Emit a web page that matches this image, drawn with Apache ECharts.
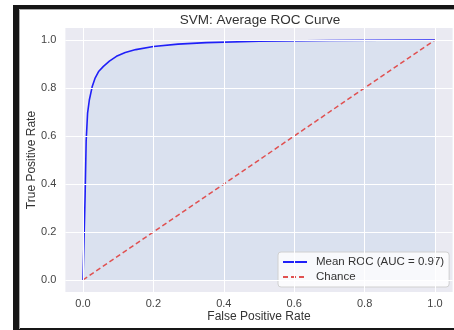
<!DOCTYPE html>
<html><head><meta charset="utf-8">
<script src="https://cdn.jsdelivr.net/npm/echarts@6/dist/echarts.min.js"></script>
<style>html,body{margin:0;padding:0;background:#fff;overflow:hidden}#c{width:454px;height:330px}</style>
</head><body><div id="c"></div>
<script>
var titleText = 'SVM: Average ROC Curve';
var xName = 'False Positive Rate';
var yName = 'True Positive Rate';
var rocName = 'Mean ROC (AUC = 0.97)';
var chanceName = 'Chance';
var fpr = [0, 0.006, 0.009, 0.013, 0.018, 0.026, 0.034, 0.045, 0.058, 0.075, 0.095, 0.12, 0.15, 0.2, 0.27, 0.35, 0.5, 0.7, 1.0];
var tpr = [0, 0.35, 0.58, 0.695, 0.75, 0.805, 0.84, 0.87, 0.89, 0.912, 0.932, 0.948, 0.96, 0.973, 0.983, 0.989, 0.995, 0.998, 1.0];
var chanceX = [0, 1];
var chanceY = [0, 1];
var xTicks = [0, 0.2, 0.4, 0.6, 0.8, 1.0];
var yTicks = [0, 0.2, 0.4, 0.6, 0.8, 1.0];

var font = '"Liberation Sans", Arial, sans-serif';
var rocData = fpr.map(function(x, i){ return [x, tpr[i]]; });
var chanceData = chanceX.map(function(x, i){ return [x, chanceY[i]]; });
var gridLines = xTicks.map(function(v){ return {xAxis: v}; }).concat(yTicks.map(function(v){ return {yAxis: v}; }));

var chart = echarts.init(document.getElementById('c'));
chart.setOption({
  animation: false,
  graphic: [
    {type: 'rect', z: -10, shape: {x: 13, y: 5, width: 6, height: 325}, style: {fill: '#161616'}},
    {type: 'rect', z: -10, shape: {x: 13, y: 5, width: 441, height: 4}, style: {fill: '#161616'}},
    {type: 'rect', z: -10, shape: {x: 13, y: 328, width: 441, height: 2}, style: {fill: '#161616'}},
    {type: 'polyline', z: -9, shape: {points: [[19.5, 329], [19.5, 9.5], [454, 9.5]]}, style: {stroke: '#aaa', lineWidth: 1, fill: null}},
    {type: 'text', z: 10, x: 260, y: 20, style: {text: titleText, fill: '#333', font: '13.5px ' + font, align: 'center', verticalAlign: 'middle'}}
  ],
  grid: {left: 65.4, right: 1.4, top: 28, bottom: 38, show: true, backgroundColor: '#EAEAF2', borderWidth: 0, containLabel: false, outerBoundsMode: 'none'},
  xAxis: {
    type: 'value', min: -0.05, max: 1.05,
    name: xName, nameLocation: 'middle', nameGap: 19, nameMoveOverlap: false,
    nameTextStyle: {color: '#333', fontSize: 12, fontFamily: font},
    axisLine: {show: false}, axisTick: {show: false}, splitLine: {show: false},
    axisLabel: {customValues: xTicks, formatter: function(v){ return v.toFixed(1); }, color: '#444', fontSize: 11, fontFamily: font, margin: 6}
  },
  yAxis: {
    type: 'value', min: -0.05, max: 1.05,
    name: yName, nameLocation: 'middle', nameGap: 28, nameRotate: 90, nameMoveOverlap: false,
    nameTextStyle: {color: '#333', fontSize: 12, fontFamily: font},
    axisLine: {show: false}, axisTick: {show: false}, splitLine: {show: false},
    axisLabel: {customValues: yTicks, formatter: function(v){ return v.toFixed(1); }, color: '#444', fontSize: 11, fontFamily: font, margin: 9}
  },
  legend: {
    orient: 'vertical', left: 278, top: 252,
    data: [rocName, chanceName],
    backgroundColor: 'rgba(255,255,255,0.8)', borderColor: '#d0d0d0', borderWidth: 1, borderRadius: 3,
    padding: [4, 5, 4, 4], itemGap: 3, itemWidth: 24, itemHeight: 12,
    itemStyle: {opacity: 0},
    textStyle: {color: '#333', fontSize: 11.5, fontFamily: font, padding: [0, 0, 0, 4]}
  },
  series: [
    {type: 'line', data: [], z: 1, silent: true,
     markLine: {silent: true, symbol: ['none', 'none'], label: {show: false}, lineStyle: {color: '#fff', width: 1, type: 'solid'}, data: gridLines}},
    {name: rocName, type: 'line', data: rocData, z: 2, symbol: 'none', smooth: false,
     lineStyle: {color: '#2020f8', width: 1.6}, itemStyle: {color: '#2020f8'},
     areaStyle: {color: 'rgba(100,160,225,0.17)'}},
    {name: chanceName, type: 'line', data: chanceData, z: 3, symbol: 'none',
     lineStyle: {color: '#e05050', width: 1.5, type: [5, 3]}, itemStyle: {color: '#e05050'}}
  ]
});
</script></body></html>
